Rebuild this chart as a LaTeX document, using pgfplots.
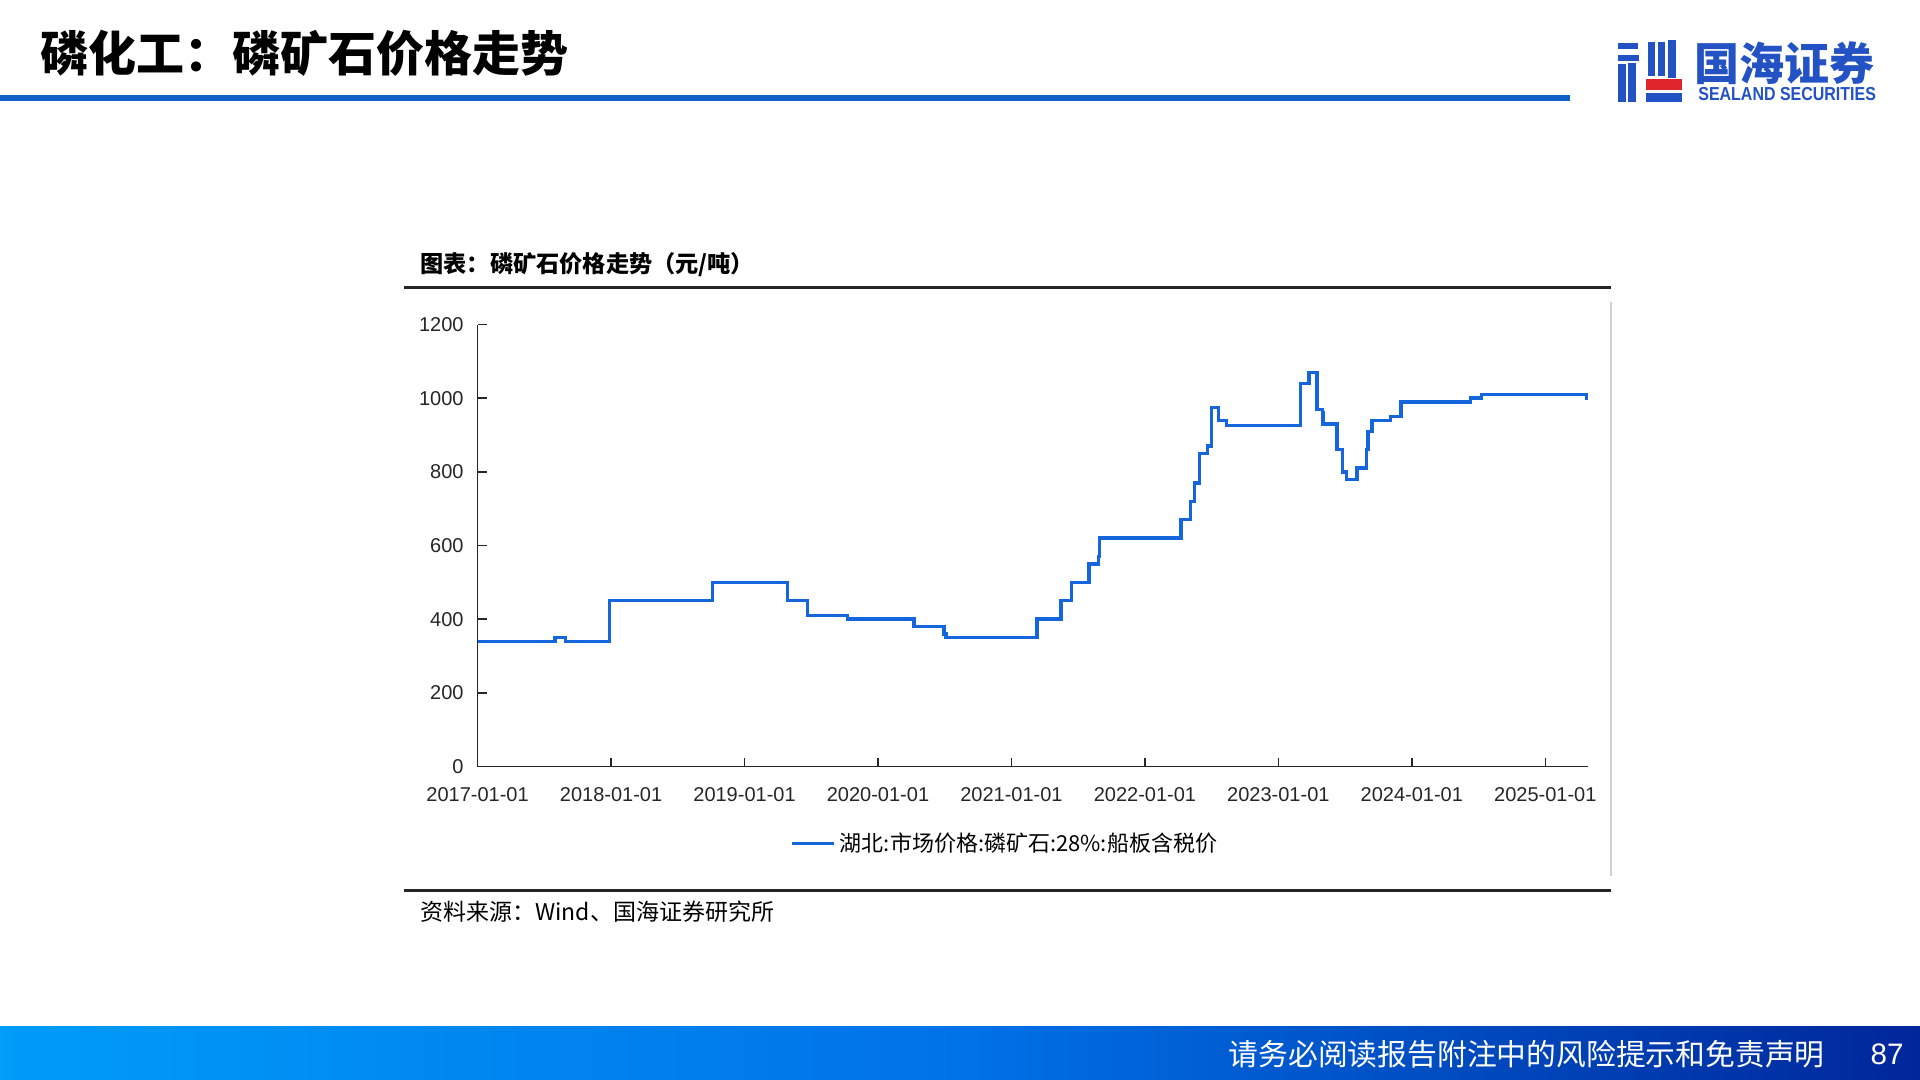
\documentclass[border=0pt]{standalone}
\usepackage{fontspec}
\setmainfont{Liberation Sans}
\newfontfamily\cjk{Noto Sans CJK SC}
\usepackage{pgfplots}
\pgfplotsset{compat=1.18}
\definecolor{lineblue}{HTML}{1565DC}
\definecolor{titleblue}{HTML}{0F5FC8}
\definecolor{logoblue}{HTML}{2352C4}
\definecolor{logored}{HTML}{E0242B}
\definecolor{footL}{HTML}{009CF9}
\definecolor{footM}{HTML}{0072E8}
\definecolor{footR}{HTML}{00269A}
\begin{document}
\begin{tikzpicture}
\useasboundingbox (0pt,0pt) rectangle (960pt,-540pt);
\fill[white] (0pt,0pt) rectangle (960pt,-540pt);
\begin{scope}[x=0.5pt,y=-0.5pt]
  % page title
  \node[anchor=west, inner sep=0pt, font=\cjk\bfseries\fontsize{24pt}{28pt}\selectfont] at (40,53) {磷化工：磷矿石价格走势};
  \fill[titleblue] (0,95) rectangle (1570,101);
  % logo icon
  \fill[logoblue] (1618,43) rectangle (1638,49);
  \fill[logoblue] (1618,55) rectangle (1639,61);
  \fill[logoblue] (1618,64) rectangle (1626,102);
  \fill[logoblue] (1628,63) rectangle (1636,102);
  \fill[logoblue] (1648,42) rectangle (1655,76);
  \fill[logoblue] (1658,42) rectangle (1665,76);
  \fill[logoblue] (1668,40) rectangle (1676,78);
  \fill[logored] (1646,79) rectangle (1682,90);
  \fill[logoblue] (1646,93) rectangle (1682,102);
  % logo text
  \node[anchor=west, inner sep=0pt, text=logoblue, font=\cjk\bfseries\fontsize{22.5pt}{26pt}\selectfont] at (1694,63) {国海证券};
  \node[anchor=west, inner sep=0pt, text=logoblue, xscale=0.85, font=\bfseries\fontsize{9.4pt}{11pt}\selectfont] at (1698,94.5) {SEALAND SECURITIES};
  % chart frame
  \node[anchor=west, inner sep=0pt, font=\cjk\bfseries\fontsize{11.6pt}{14pt}\selectfont] at (420,264.5) {图表：磷矿石价格走势（元/吨）};
  \draw[line width=1.5pt, black!85] (404,287.5) -- (1611,287.5);
  \draw[line width=0.75pt, black!18] (1611,302) -- (1611,876);
  \draw[line width=1.5pt, black!85] (404,890) -- (1611,890);
  \node[anchor=west, inner sep=0pt, font=\cjk\fontsize{11.5pt}{14pt}\selectfont] at (420,912) {资料来源：Wind、国海证券研究所};
  % footer
  \shade[left color=footL, right color=footR, middle color=footM] (0,1026.7) rectangle (1920,1080);
  \node[anchor=east, inner sep=0pt, text=white, font=\cjk\fontsize{14.9pt}{18pt}\selectfont] at (1825,1054) {请务必阅读报告附注中的风险提示和免责声明};
  \node[anchor=east, inner sep=0pt, text=white, font=\fontsize{14.8pt}{18pt}\selectfont] at (1904,1054) {87};
\end{scope}
\begin{axis}[
  at={(238.8pt,-383.25pt)}, anchor=south west,
  scale only axis, width=555.2pt, height=221pt,
  xmin=2017, xmax=2025.32, ymin=0, ymax=1200,
  axis lines*=left,
  axis line style={-, line width=0.75pt, black!85},
  tick align=inside,
  tick style={black!85, line width=0.75pt},
  major tick length=4.5pt,
  xtick={2017,2018,2019,2020,2021,2022,2023,2024,2025},
  xticklabels={2017-01-01,2018-01-01,2019-01-01,2020-01-01,2021-01-01,2022-01-01,2023-01-01,2024-01-01,2025-01-01},
  ytick={0,200,400,600,800,1000,1200},
  /pgf/number format/assume math mode=true,
  /pgf/number format/1000 sep={},
  ticklabel style={font=\fontsize{10pt}{12pt}\selectfont, text=black!85},
  xticklabel style={yshift=-7pt},
  yticklabel style={xshift=-3.5pt},
  clip=false,
  legend style={at={(0.282,-0.1747)}, anchor=west, draw=none, fill=none, inner sep=0pt, outer sep=0pt,
    font=\cjk\fontsize{11pt}{13pt}\selectfont},
  legend image code/.code={\draw[#1, line width=1.6pt] (0pt,0pt) -- (21pt,0pt);},
]
\addplot[const plot, color=lineblue, line width=1.7pt] coordinates {
(2017.00,340) (2017.58,350) (2017.66,340) (2017.99,450) (2018.76,500)
(2019.32,450) (2019.47,410) (2019.77,400) (2020.27,380) (2020.495,360)
(2020.51,350) (2021.19,400) (2021.37,450) (2021.45,500) (2021.58,550)
(2021.65,570) (2021.66,620) (2022.27,670) (2022.34,720) (2022.37,770)
(2022.41,850) (2022.47,870) (2022.50,975) (2022.55,940) (2022.61,925)
(2023.166,1040) (2023.23,1070) (2023.29,970) (2023.33,960) (2023.335,930)
(2023.44,860) (2023.48,800) (2023.51,780) (2023.59,810) (2023.66,860)
(2023.67,910) (2023.70,940) (2023.84,950) (2023.92,990) (2024.44,1000)
(2024.52,1010) (2025.31,1000) (2025.32,1000)
};
\addlegendentry{湖北:市场价格:磷矿石:28\%:船板含税价}
\end{axis}
\end{tikzpicture}
\end{document}
